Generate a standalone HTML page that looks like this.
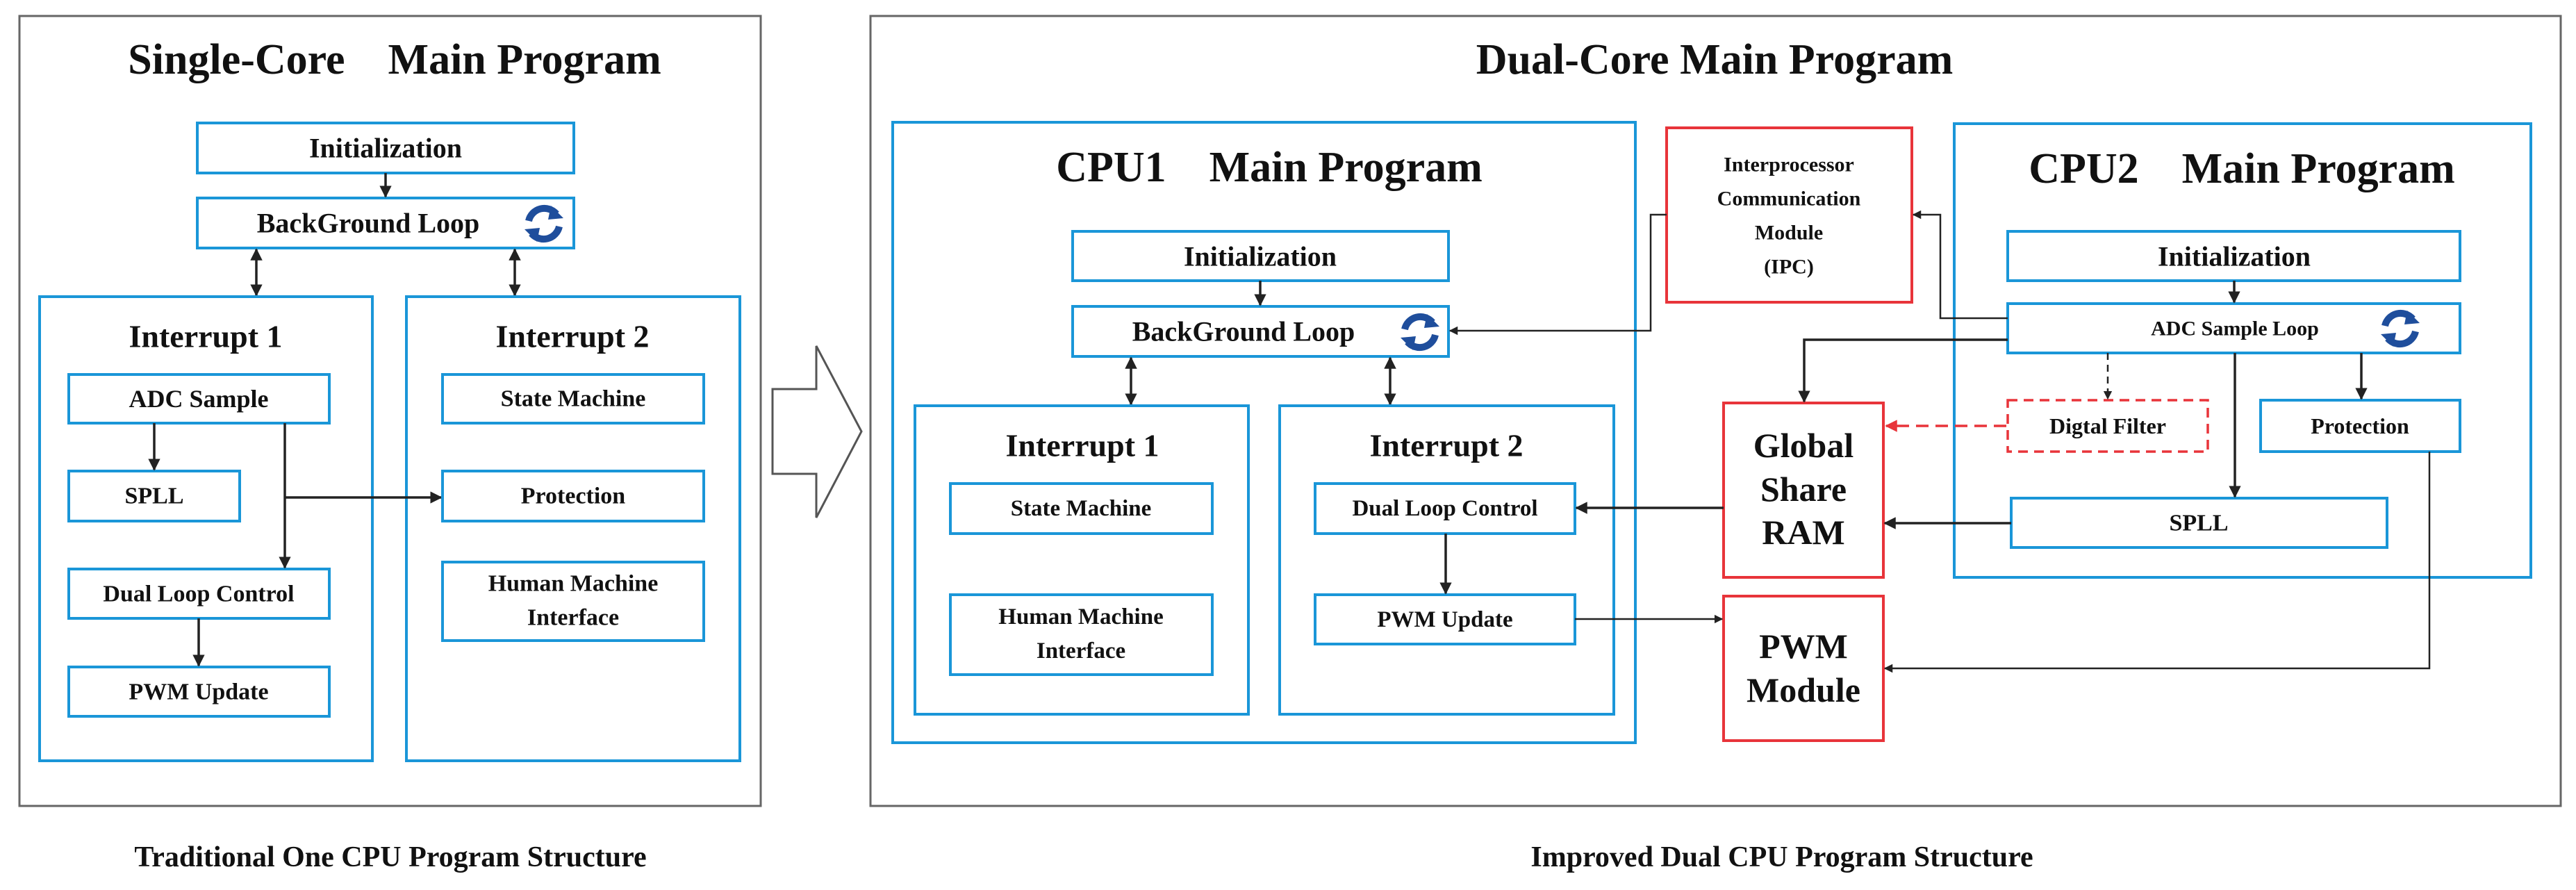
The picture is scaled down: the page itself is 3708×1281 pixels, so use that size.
<!DOCTYPE html>
<html><head><meta charset="utf-8"><style>
html,body{margin:0;padding:0;background:#fff;}
svg{display:block;}
text{font-family:"Liberation Serif",serif;font-weight:bold;fill:#111;text-anchor:middle;dominant-baseline:central;white-space:pre;}
.b{fill:#fff;stroke:#1a96d8;stroke-width:4;}
.r{fill:#fff;stroke:#e8343a;stroke-width:4;}
.l{fill:none;stroke:#222;stroke-width:3.5;}
</style></head><body>
<svg width="3708" height="1281" viewBox="0 0 3708 1281" xmlns="http://www.w3.org/2000/svg" xml:space="preserve">
<defs>
<marker id="a" viewBox="0 0 10 10" refX="9" refY="5" markerWidth="5" markerHeight="5" orient="auto-start-reverse"><path d="M0,0L10,5L0,10z" fill="#222"/></marker>
<marker id="ar" viewBox="0 0 10 10" refX="9" refY="5" markerWidth="5" markerHeight="5" orient="auto"><path d="M0,0L10,5L0,10z" fill="#e8343a"/></marker>
<g id="ic">
<path d="M-22,-4 A23,23 0 0 1 18,-14" fill="none" stroke="#1f4e9c" stroke-width="10"/>
<path d="M10,-26 L28,-8 L6,-6z" fill="#1f4e9c"/>
<path d="M22,4 A23,23 0 0 1 -18,14" fill="none" stroke="#1f4e9c" stroke-width="10"/>
<path d="M-10,26 L-28,8 L-6,6z" fill="#1f4e9c"/>
</g>
</defs>

<!-- LEFT PANEL -->
<rect x="28" y="23" width="1067" height="1137" fill="none" stroke="#666" stroke-width="3"/>
<text x="568" y="86" font-size="62">Single-Core    Main Program</text>
<rect class="b" x="284" y="177" width="542" height="72"/>
<text x="555" y="213" font-size="40">Initialization</text>
<rect class="b" x="284" y="285" width="542" height="72"/>
<text x="530" y="321" font-size="40">BackGround Loop</text>
<use href="#ic" x="783" y="322"/>
<line class="l" x1="555" y1="249" x2="555" y2="283" marker-end="url(#a)"/>
<line class="l" x1="369" y1="359" x2="369" y2="425" marker-start="url(#a)" marker-end="url(#a)"/>
<line class="l" x1="741" y1="359" x2="741" y2="425" marker-start="url(#a)" marker-end="url(#a)"/>
<rect class="b" x="57" y="427" width="479" height="668"/>
<rect class="b" x="585" y="427" width="480" height="668"/>
<text x="296" y="484" font-size="46">Interrupt 1</text>
<text x="824" y="484" font-size="46">Interrupt 2</text>
<rect class="b" x="99" y="539" width="375" height="70"/>
<text x="286" y="574" font-size="36">ADC Sample</text>
<rect class="b" x="99" y="678" width="246" height="72"/>
<text x="222" y="714" font-size="34">SPLL</text>
<rect class="b" x="99" y="819" width="375" height="71"/>
<text x="286" y="855" font-size="34">Dual Loop Control</text>
<rect class="b" x="99" y="960" width="375" height="71"/>
<text x="286" y="996" font-size="34">PWM Update</text>
<line class="l" x1="222" y1="609" x2="222" y2="676" marker-end="url(#a)"/>
<line class="l" x1="410" y1="609" x2="410" y2="817" marker-end="url(#a)"/>
<line class="l" x1="410" y1="716" x2="635" y2="716" marker-end="url(#a)"/>
<line class="l" x1="286" y1="890" x2="286" y2="958" marker-end="url(#a)"/>
<rect class="b" x="637" y="539" width="376" height="70"/>
<text x="825" y="574" font-size="34">State Machine</text>
<rect class="b" x="637" y="678" width="376" height="72"/>
<text x="825" y="714" font-size="34">Protection</text>
<rect class="b" x="637" y="809" width="376" height="113"/>
<text x="825" y="840" font-size="34">Human Machine</text>
<text x="825" y="889" font-size="34">Interface</text>
<text x="562" y="1234" font-size="42">Traditional One CPU Program Structure</text>

<!-- big arrow -->
<path d="M1112,560 L1175,560 L1175,498 L1240,621 L1175,745 L1175,682 L1112,682 Z" fill="#fff" stroke="#555" stroke-width="3"/>

<!-- RIGHT PANEL -->
<rect x="1253" y="23" width="2433" height="1137" fill="none" stroke="#666" stroke-width="3"/>
<text x="2468" y="86" font-size="62">Dual-Core Main Program</text>

<!-- CPU1 -->
<rect class="b" x="1285" y="176" width="1069" height="893"/>
<text x="1827" y="241" font-size="62">CPU1    Main Program</text>
<rect class="b" x="1544" y="333" width="541" height="71"/>
<text x="1814" y="369" font-size="40">Initialization</text>
<rect class="b" x="1544" y="441" width="541" height="72"/>
<text x="1790" y="477" font-size="40">BackGround Loop</text>
<use href="#ic" x="2044" y="478"/>
<line class="l" x1="1814" y1="404" x2="1814" y2="439" marker-end="url(#a)"/>
<line class="l" x1="1628" y1="515" x2="1628" y2="582" marker-start="url(#a)" marker-end="url(#a)"/>
<line class="l" x1="2001" y1="515" x2="2001" y2="582" marker-start="url(#a)" marker-end="url(#a)"/>
<rect class="b" x="1317" y="584" width="480" height="444"/>
<rect class="b" x="1842" y="584" width="481" height="444"/>
<text x="1558" y="641" font-size="46">Interrupt 1</text>
<text x="2082" y="641" font-size="46">Interrupt 2</text>
<rect class="b" x="1368" y="696" width="377" height="72"/>
<text x="1556" y="732" font-size="33">State Machine</text>
<rect class="b" x="1368" y="856" width="377" height="115"/>
<text x="1556" y="888" font-size="33">Human Machine</text>
<text x="1556" y="937" font-size="33">Interface</text>
<rect class="b" x="1893" y="696" width="374" height="72"/>
<text x="2080" y="732" font-size="33">Dual Loop Control</text>
<rect class="b" x="1893" y="856" width="374" height="71"/>
<text x="2080" y="892" font-size="33">PWM Update</text>
<line class="l" x1="2081" y1="768" x2="2081" y2="854" marker-end="url(#a)"/>

<!-- IPC -->
<rect class="r" x="2399" y="184" width="353" height="251"/>
<text x="2575" y="237" font-size="30">Interprocessor</text>
<text x="2575" y="286" font-size="30">Communication</text>
<text x="2575" y="335" font-size="30">Module</text>
<text x="2575" y="384" font-size="30">(IPC)</text>
<polyline class="l" style="stroke-width:2.5" points="2399,309 2376,309 2376,476 2087,476" marker-end="url(#a)"/>

<!-- GSR & PWM module -->
<rect class="r" x="2481" y="580" width="230" height="251"/>
<text x="2596" y="641" font-size="50">Global</text>
<text x="2596" y="704" font-size="50">Share</text>
<text x="2596" y="766" font-size="50">RAM</text>
<rect class="r" x="2481" y="858" width="230" height="208"/>
<text x="2596" y="930" font-size="50">PWM</text>
<text x="2596" y="993" font-size="50">Module</text>
<line class="l" x1="2481" y1="731" x2="2269" y2="731" marker-end="url(#a)"/>
<line class="l" style="stroke-width:2.5" x1="2267" y1="891" x2="2479" y2="891" marker-end="url(#a)"/>

<!-- CPU2 -->
<rect class="b" x="2813" y="178" width="830" height="653"/>
<text x="3227" y="243" font-size="62">CPU2    Main Program</text>
<rect class="b" x="2890" y="333" width="651" height="71"/>
<text x="3216" y="369" font-size="40">Initialization</text>
<rect class="b" x="2890" y="437" width="651" height="71"/>
<text x="3217" y="473" font-size="30">ADC Sample Loop</text>
<use href="#ic" x="3455" y="473"/>
<line class="l" x1="3216" y1="404" x2="3216" y2="435" marker-end="url(#a)"/>
<rect x="2890" y="576" width="288" height="74" fill="#fff" stroke="#e8343a" stroke-width="3.5" stroke-dasharray="14,9"/>
<text x="3034" y="613" font-size="32">Digtal Filter</text>
<rect class="b" x="3254" y="576" width="287" height="74"/>
<text x="3397" y="613" font-size="32">Protection</text>
<rect class="b" x="2895" y="717" width="541" height="71"/>
<text x="3165" y="753" font-size="34">SPLL</text>

<polyline class="l" style="stroke-width:2.5" points="2890,458 2793,458 2793,309 2754,309" marker-end="url(#a)"/>
<polyline class="l" points="2890,489 2597,489 2597,578" marker-end="url(#a)"/>
<line class="l" style="stroke-width:2.5" x1="3034" y1="508" x2="3034" y2="574" stroke-dasharray="10,7" marker-end="url(#a)"/>
<line x1="2888" y1="613" x2="2715" y2="613" stroke="#e8343a" stroke-width="3.5" stroke-dasharray="18,10" marker-end="url(#ar)"/>
<line class="l" x1="3217" y1="508" x2="3217" y2="715" marker-end="url(#a)"/>
<line class="l" x1="3399" y1="508" x2="3399" y2="574" marker-end="url(#a)"/>
<line class="l" x1="2895" y1="753" x2="2713" y2="753" marker-end="url(#a)"/>
<polyline class="l" style="stroke-width:2.5" points="3497,650 3497,962 2713,962" marker-end="url(#a)"/>

<text x="2565" y="1234" font-size="42">Improved Dual CPU Program Structure</text>
</svg>
</body></html>
